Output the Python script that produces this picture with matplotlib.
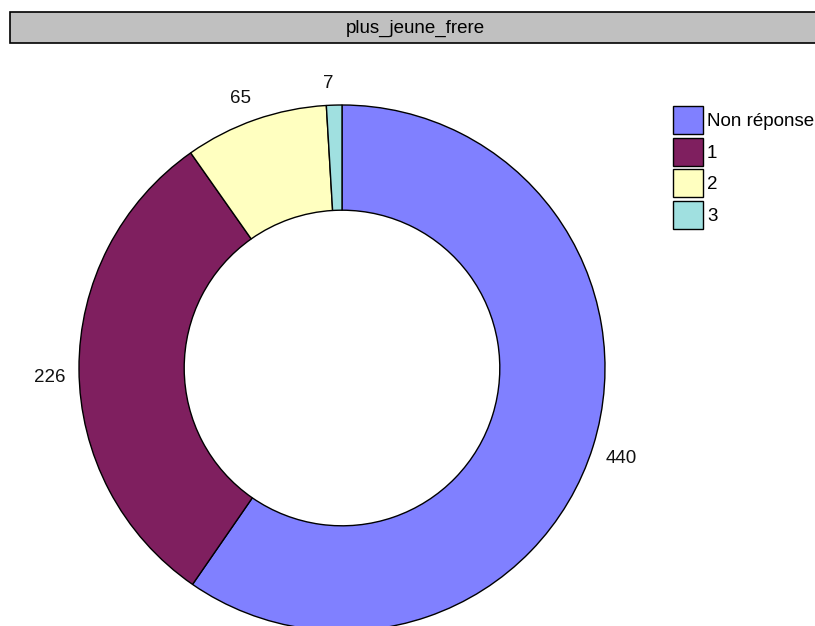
import matplotlib
matplotlib.use("Agg")
import matplotlib.pyplot as plt
from matplotlib.patches import Rectangle, Patch

plt.rcParams['font.family'] = ['Liberation Sans', 'DejaVu Sans']

title = "plus_jeune_frere"
categories = ["Non réponse", "1", "2", "3"]
counts = [440, 226, 65, 7]
colors = ["#8080ff", "#7f1f5f", "#ffffc0", "#a0e0e0"]

W, H = 815, 626
fs = 13.5
fig = plt.figure(figsize=(W / 100, H / 100), dpi=100)
ax = fig.add_axes([0, 0, 1, 1])

# donut, centre and radius in pixel units
cx, cy, r = 342, H - 368, 263
wedges, texts = ax.pie(counts, colors=colors, startangle=90, counterclock=False,
                       center=(cx, cy), radius=r, labels=[str(c) for c in counts],
                       labeldistance=1.05,
                       wedgeprops=dict(width=r * 0.4, edgecolor="black", linewidth=1),
                       textprops=dict(fontsize=fs, color="#111111"))
# pie picks alignment from absolute x, fix it relative to the centre
for t in texts:
    x, y = t.get_position()
    dx, dy = x - cx, y - cy
    t.set_ha("left" if dx > 1 else ("right" if dx < -1 else "center"))
    t.set_va("top" if dy <= 0 else "bottom")

ax.set_xlim(0, W)
ax.set_ylim(0, H)
ax.set_aspect("equal")
ax.axis("off")

# title bar
fig.patches.append(Rectangle((10 / W, 1 - 43 / H), 830 / W, 31 / H, transform=fig.transFigure,
                             facecolor="#c0c0c0", edgecolor="black", linewidth=1.2))
fig.text(415 / W, 1 - 28 / H, title, ha="center", va="center", fontsize=fs)

handles = [Patch(facecolor=c, edgecolor="black", linewidth=1) for c in colors]
fig.legend(handles, categories, loc="upper left", bbox_to_anchor=(673 / W, 1 - 106 / H),
           frameon=False, fontsize=fs, handlelength=1.6, handleheight=1.95,
           labelspacing=0.17, handletextpad=0.22, borderpad=0, borderaxespad=0)

fig.savefig("out.png", dpi=100)
